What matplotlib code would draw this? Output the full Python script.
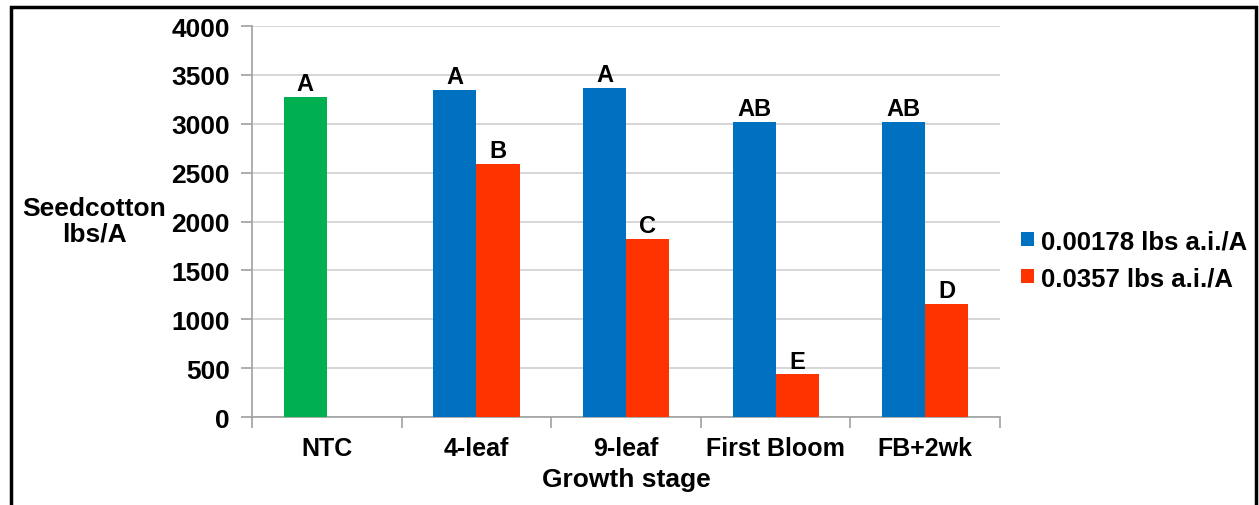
import numpy as np
import matplotlib.pyplot as plt
from matplotlib.patches import Rectangle

# Data
stages = ["NTC", "4-leaf", "9-leaf", "First Bloom", "FB+2wk"]
low_rate = [3270, 3345, 3370, 3020, 3020]      # NTC value drawn in green
high_rate = [np.nan, 2590, 1825, 435, 1155]
low_letters = ["A", "A", "A", "AB", "AB"]
high_letters = ["", "B", "C", "E", "D"]
series_names = ["0.00178 lbs a.i./A", "0.0357 lbs a.i./A"]

plt.rcParams['font.family'] = ['Liberation Sans', 'DejaVu Sans']
plt.rcParams['font.weight'] = 'bold'

green, blue, red = "#00B050", "#0070C0", "#FF3300"

fig = plt.figure(figsize=(12.59, 5.06), dpi=100)
ax = fig.add_axes([0.2002, 0.1739, 0.5941, 0.7727])

x = np.arange(len(stages))
w = 0.288
colors = [green] + [blue] * (len(stages) - 1)
b1 = ax.bar(x - w / 2, low_rate, w, color=colors, zorder=3)
b2 = ax.bar(x + w / 2, high_rate, w, color=red, zorder=3)

for xi, v, t in zip(x, low_rate, low_letters):
    ax.text(xi - w / 2, v + 20, t, ha="center", va="bottom", fontsize=17, fontweight="bold")
for xi, v, t in zip(x, high_rate, high_letters):
    if t:
        ax.text(xi + w / 2, v + 20, t, ha="center", va="bottom", fontsize=17, fontweight="bold")

ax.set_ylim(0, 4000)
ax.set_xlim(-0.5, len(stages) - 0.5)
ax.set_yticks(np.arange(0, 4001, 500))
ax.yaxis.grid(True, color="#d0d0d0", linewidth=1.2, zorder=0)
ax.set_xticks(x)
ax.set_xticklabels(stages)
ax.set_xticks(np.arange(-0.5, len(stages)), minor=True)
ax.tick_params(axis="x", which="major", length=0, pad=14, labelsize=18)
ax.tick_params(axis="x", which="minor", length=8, color="#a0a0a0", width=1.2)
ax.tick_params(axis="y", length=8, color="#a0a0a0", width=1.2, labelsize=19, pad=8)
for lab in ax.get_xticklabels() + ax.get_yticklabels():
    lab.set_fontweight("bold")

for s in ["top", "right"]:
    ax.spines[s].set_visible(False)
ax.spines["left"].set_color("#a0a0a0")
ax.spines["bottom"].set_color("#a0a0a0")
ax.spines["left"].set_linewidth(1.2)
ax.spines["bottom"].set_linewidth(1.2)

ax.set_xlabel("Growth stage", fontsize=19, fontweight="bold", labelpad=5)
fig.text(0.075, 0.562, "Seedcotton\nlbs/A", ha="center", va="center",
         fontsize=19, fontweight="bold", linespacing=1.05)

leg = fig.legend([b1[1], b2[1]], series_names, loc="center left",
                 bbox_to_anchor=(0.7925, 0.485), frameon=False, fontsize=18.5,
                 handlelength=0.5, handleheight=0.5, handletextpad=0.3,
                 labelspacing=0.5)
for t in leg.get_texts():
    t.set_fontweight("bold")

# outer frame
fig.patches.append(Rectangle((0.0085, -0.1), 0.989, 1.084, transform=fig.transFigure,
                             fill=False, edgecolor="black", linewidth=2.5))

fig.savefig("out.png", dpi=100)
